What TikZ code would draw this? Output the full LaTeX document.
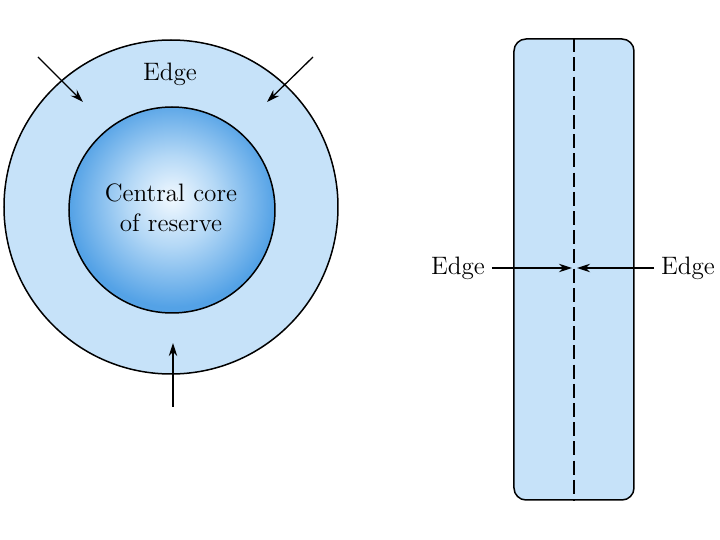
\documentclass[tikz,border=0pt]{standalone}
\usepackage{tikz}
\usetikzlibrary{positioning,arrows.meta,calc}

\definecolor{ringblue}{RGB}{198,226,249}
\definecolor{coreinner}{RGB}{242,249,255}
\definecolor{coremid}{RGB}{180,216,246}
\definecolor{coreouter}{RGB}{84,162,230}
\pgfdeclareradialshading{coreshade}{\pgfpoint{0bp}{3bp}}{%
  color(0bp)=(coreinner); color(11bp)=(coremid); color(25bp)=(coreouter); color(50bp)=(coreouter)}

\begin{document}
\begin{tikzpicture}[x=0.5pt, y=-0.5pt, >={Stealth[length=6.5pt,width=4.2pt]},
  font=\fontsize{12.6}{15}\selectfont,
  outl/.style={draw, line width=0.75pt},
  ptr/.style={->, line width=0.65pt}]
  \useasboundingbox (0,0) rectangle (720,540);

  % ganze wurzel, von oben gesehen
  \node[outl, circle, fill=ringblue, minimum size=167pt, inner sep=0pt] (disk) at (171,207) {};
  \node[outl, circle, shading=coreshade, minimum size=103pt, inner sep=0pt] (core) at (172,210) {};
  \node[align=center] (corelbl) at (171,208) {Central core\\of reserve};
  \node (edgetop) at (170,74) {Edge};

  % pfeile zum rand
  \coordinate (nwtail) at (38,57);   \coordinate (nwtip) at (83,102);
  \coordinate (netail) at (313,57);  \coordinate (netip) at (267,102);
  \coordinate (stail) at (173,407);  \coordinate (stip) at (173,343);
  \draw[ptr] (nwtail) -- (nwtip);
  \draw[ptr] (netail) -- (netip);
  \draw[ptr] (stail) -- (stip);

  % abschnitt, von der seite
  \node[outl, rectangle, rounded corners=6pt, fill=ringblue, minimum width=60pt,
        minimum height=230.5pt, inner sep=0pt] (slab) at (574,269.5) {};
  \draw[line width=0.75pt, dash pattern=on 7pt off 2.6pt] (slab.north) -- (slab.south);

  \node (edgeL) at (458,268) {Edge};
  \node (edgeR) at (688,268) {Edge};
  \coordinate (ltip) at (572,268);
  \coordinate (rtip) at (577,268);
  \draw[ptr] (edgeL.east) -- (ltip);
  \draw[ptr] (edgeR.west) -- (rtip);
\end{tikzpicture}
\end{document}
